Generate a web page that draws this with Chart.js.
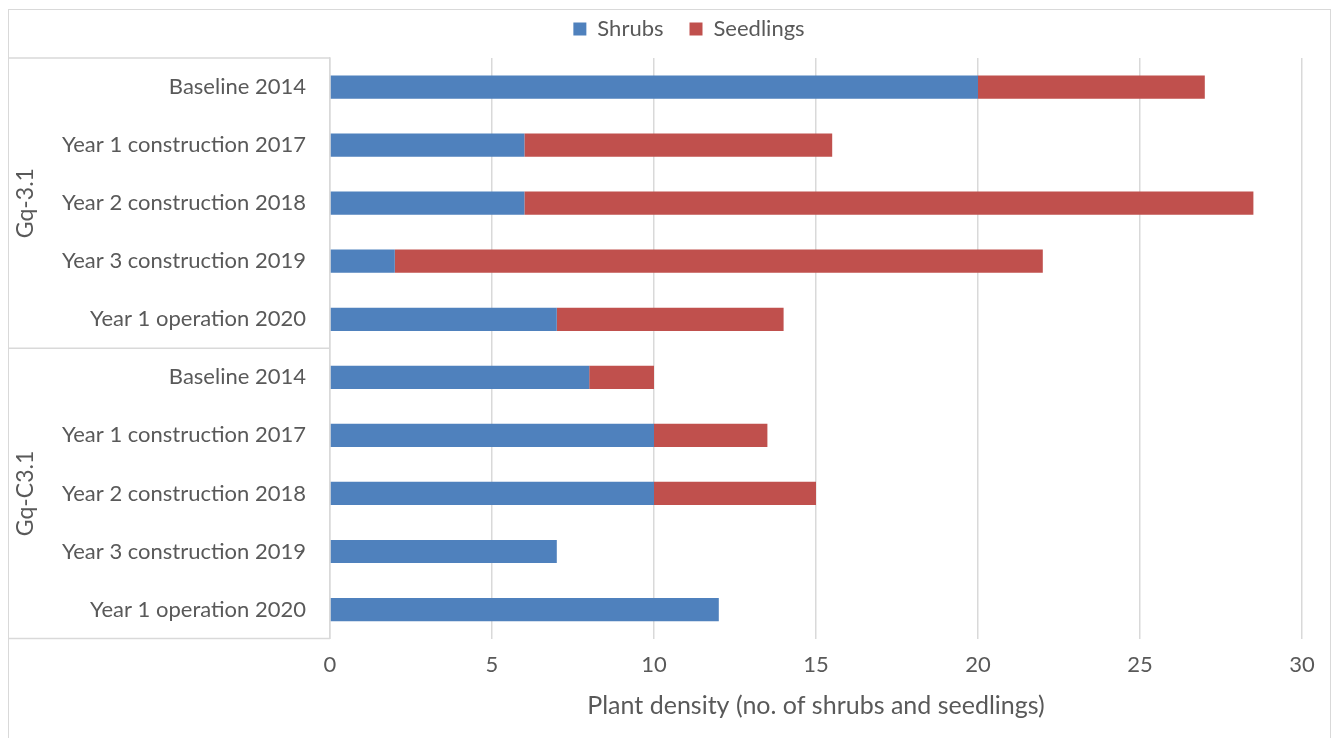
<!DOCTYPE html>
<html>
<head>
<meta charset="utf-8">
<script src="https://cdn.jsdelivr.net/npm/chart.js@4.4.1/dist/chart.umd.min.js"></script>
<style>
  html, body { margin: 0; padding: 0; background: #ffffff; overflow: hidden; }
  #frame { position: absolute; left: 8px; top: 9px; width: 1323px; height: 740px;
           border: 1.5px solid #d9d9d9; box-sizing: border-box; }
  #wrap { position: absolute; left: 0; top: 0; width: 1333px; height: 738px; }
</style>
</head>
<body>
<div id="frame"></div>
<div id="wrap"><canvas id="chart" width="1333" height="738"></canvas></div>
<script>
// Sites and survey years (two-level category axis)
const groups = ['Gq-3.1', 'Gq-C3.1'];
const surveys = ['Baseline 2014', 'Year 1 construction 2017', 'Year 2 construction 2018',
                 'Year 3 construction 2019', 'Year 1 operation 2020'];
const categories = groups.flatMap(() => surveys);

// Plant density counts per survey
const shrubs    = [20, 6, 6, 2, 7, 8, 10, 10, 7, 12];
const seedlings = [7, 9.5, 22.5, 20, 7, 2, 3.5, 5, 0, 0];

const xTicks = [0, 5, 10, 15, 20, 25, 30];
const xTitle = 'Plant density (no. of shrubs and seedlings)';

const FONT = 'Lato';
const TEXT = '#595959';
const GRID = '#d9d9d9';

// Legend band: fixed height, row nudged up and right
const legendPlace = {
  id: 'legendPlace',
  beforeLayout(chart) {
    const lg = chart.legend;
    if (lg && !lg._placePatched) {
      const fit = lg.fit.bind(lg);
      lg.fit = function () { fit(); this.height = 50; };
      lg._placePatched = true;
    }
  },
  afterLayout(chart) {
    const lg = chart.legend;
    if (!lg) return;
    lg.top -= 16; lg.bottom -= 16;
    lg.left += 34; lg.right += 34;
  }
};

// Draws the outer group labels and the separators of the two-level axis
const groupAxis = {
  id: 'groupAxis',
  afterDraw(chart) {
    const { ctx, chartArea, scales } = chart;
    const y = scales.y;
    const left = 8;
    const per = surveys.length;
    const edges = [chartArea.top];
    for (let g = 1; g < groups.length; g++) {
      edges.push((y.getPixelForValue(g * per - 1) + y.getPixelForValue(g * per)) / 2);
    }
    edges.push(chartArea.bottom);
    ctx.save();
    ctx.strokeStyle = GRID;
    ctx.lineWidth = 1.5;
    edges.forEach(e => {
      ctx.beginPath();
      ctx.moveTo(left, e);
      ctx.lineTo(chartArea.left, e);
      ctx.stroke();
    });
    ctx.fillStyle = TEXT;
    ctx.font = '23px ' + FONT;
    ctx.textAlign = 'center';
    ctx.textBaseline = 'middle';
    groups.forEach((g, i) => {
      const cy = (edges[i] + edges[i + 1]) / 2;
      ctx.save();
      ctx.translate(26, cy);
      ctx.rotate(-Math.PI / 2);
      ctx.fillText(g, 0, 0);
      ctx.restore();
    });
    ctx.restore();
  }
};

new Chart(document.getElementById('chart'), {
  type: 'bar',
  data: {
    labels: categories,
    datasets: [
      { label: 'Shrubs', data: shrubs, backgroundColor: '#4f81bd', borderWidth: 0 },
      { label: 'Seedlings', data: seedlings, backgroundColor: '#c0504d', borderWidth: 0 }
    ]
  },
  options: {
    indexAxis: 'y',
    responsive: false,
    animation: false,
    datasets: { bar: { categoryPercentage: 0.8, barPercentage: 0.5 } },
    layout: { padding: { left: 8, right: 31, top: 8, bottom: 17 } },
    plugins: {
      tooltip: { enabled: false },
      legend: {
        position: 'top',
        labels: {
          color: TEXT,
          font: { family: FONT, size: 22 },
          boxWidth: 13, boxHeight: 13,
          padding: 26
        }
      }
    },
    scales: {
      x: {
        stacked: true,
        min: 0, max: 30,
        afterBuildTicks: s => { s.ticks = xTicks.map(v => ({ value: v })); },
        grid: { color: GRID, lineWidth: 1.5, drawTicks: false },
        border: { display: false },
        ticks: { color: TEXT, font: { family: FONT, size: 22 }, padding: 13 },
        title: { display: true, text: xTitle, color: TEXT,
                 font: { family: FONT, size: 25 }, padding: { top: 0, bottom: 0 } }
      },
      y: {
        stacked: true,
        afterFit: s => { s.width = 322; },
        grid: { display: false },
        border: { display: true, color: GRID, width: 1.5 },
        ticks: { color: TEXT, font: { family: FONT, size: 22 }, padding: 16 }
      }
    }
  },
  plugins: [legendPlace, groupAxis]
});
</script>
</body>
</html>
